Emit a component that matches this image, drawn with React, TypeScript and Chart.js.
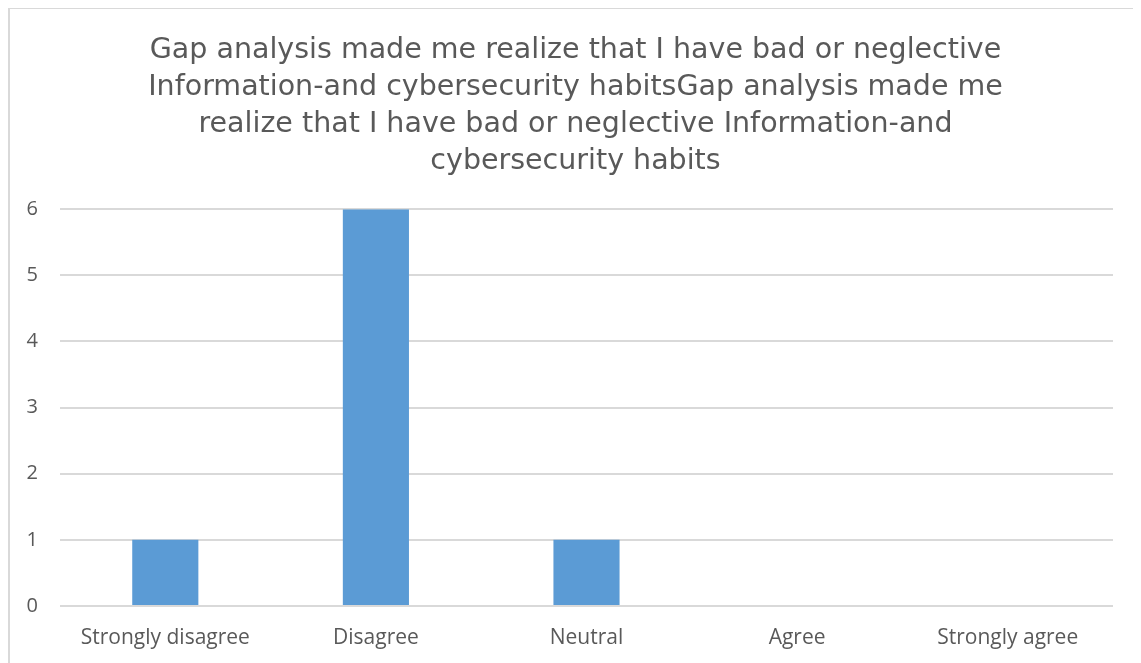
import React, { useEffect, useRef } from "react";
import { Chart, registerables } from "chart.js";

Chart.register(...registerables);

const categories = ["Strongly disagree", "Disagree", "Neutral", "Agree", "Strongly agree"];
const responses = [1, 6, 1, 0, 0];
const yTicks = [0, 1, 2, 3, 4, 5, 6];
const titleLines = [
  "Gap analysis made me realize that I have bad or neglective",
  "Information-and cybersecurity habitsGap analysis made me",
  "realize that I have bad or neglective Information-and",
  "cybersecurity habits",
];

const TEXT = "#595959";
const GRID = "#d9d9d9";
const BAR = "#5b9bd5";

export default function App() {
  const canvasRef = useRef<HTMLCanvasElement | null>(null);

  useEffect(() => {
    document.body.style.overflow = "hidden";
    const ctx = canvasRef.current;
    if (!ctx) return;
    const chart = new Chart(ctx, {
      type: "bar",
      data: {
        labels: categories,
        datasets: [
          {
            data: responses,
            backgroundColor: BAR,
            borderWidth: 0,
            categoryPercentage: 1,
            barPercentage: 0.314,
          },
        ],
      },
      options: {
        animation: false,
        responsive: false,
        maintainAspectRatio: false,
        layout: { padding: 0 },
        plugins: {
          legend: { display: false },
          tooltip: { enabled: false },
          title: {
            display: true,
            text: titleLines,
            color: TEXT,
            font: { family: "'DejaVu Sans', sans-serif", size: 28.5, weight: "normal", lineHeight: 1.3 },
            padding: { top: 23, bottom: 29 },
          },
        },
        scales: {
          x: {
            grid: { display: false, drawTicks: false },
            border: { display: false },
            ticks: {
              color: TEXT,
              padding: 19,
              font: { family: "'Open Sans', sans-serif", size: 21 },
              maxRotation: 0,
              autoSkip: false,
            },
            afterFit: (scale: any) => {
              scale.height = 56;
            },
          },
          y: {
            min: 0,
            max: 6,
            afterBuildTicks: (scale: any) => {
              scale.ticks = yTicks.map((v) => ({ value: v }));
            },
            grid: { color: GRID, lineWidth: 2, drawTicks: false },
            border: { display: false },
            ticks: {
              color: TEXT,
              padding: 22,
              font: { family: "'Open Sans', sans-serif", size: 20 },
            },
            afterFit: (scale: any) => {
              scale.width = 50;
            },
          },
          // empty right-hand gutter so the title stays centred on the whole canvas
          gutter: {
            type: "linear",
            position: "right",
            display: true,
            grid: { display: false, drawTicks: false },
            border: { display: false },
            ticks: { display: false },
            afterFit: (scale: any) => {
              scale.width = 28;
            },
          },
        },
      },
    });
    return () => chart.destroy();
  }, []);

  return (
    <div
      style={{
        width: 1200,
        height: 700,
        marginTop: -1,
        borderLeft: `2px solid ${GRID}`,
        borderTop: `2px solid ${GRID}`,
        background: "#fff",
      }}
    >
      <canvas ref={canvasRef} width={1131} height={653} style={{ display: "block" }} />
    </div>
  );
}
